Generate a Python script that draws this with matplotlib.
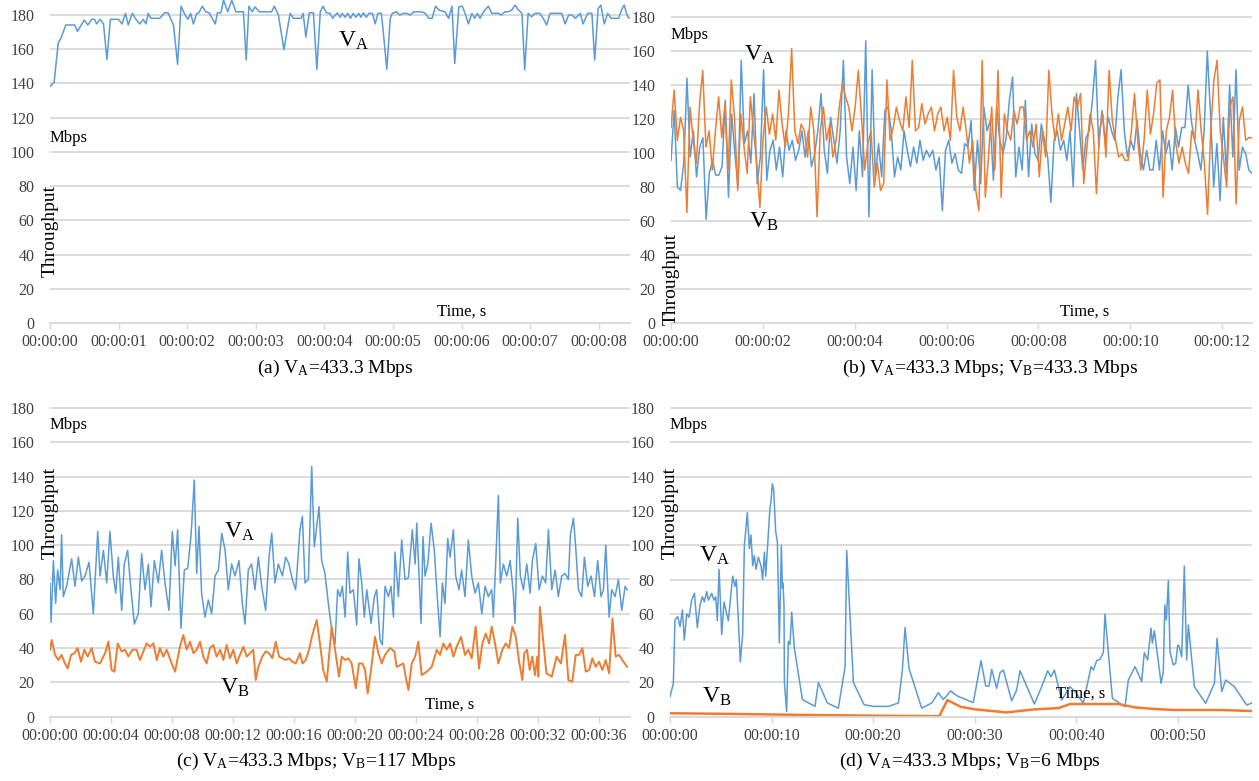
import numpy as np
import matplotlib
matplotlib.use("Agg")
import matplotlib.pyplot as plt

plt.rcParams['font.family'] = ['Liberation Serif', 'DejaVu Serif']
plt.rcParams['mathtext.fontset'] = 'custom'
plt.rcParams['mathtext.rm'] = 'Liberation Serif'
plt.rcParams['mathtext.it'] = 'Liberation Serif:italic'

BLUE = '#5B9BD5'
ORANGE = '#ED7D31'
GRID = '#D9D9D9'
TICK_TEXT = '#404040'

# ---- (a) VA only, 0..8.45 s ----
t_a = [0.0, 0.06, 0.12, 0.16, 0.23, 0.36, 0.40, 0.50, 0.55, 0.61,
       0.65, 0.68, 0.73, 0.78, 0.83, 0.88, 1.00, 1.05, 1.10, 1.14,
       1.20, 1.26, 1.31, 1.36, 1.40, 1.43, 1.47, 1.60, 1.67, 1.72,
       1.80, 1.86, 1.91, 1.97, 2.01, 2.05, 2.09, 2.14, 2.17, 2.22,
       2.27, 2.32, 2.41, 2.44, 2.49, 2.53, 2.59, 2.65, 2.71, 2.82,
       2.86, 2.90, 2.95, 2.99, 3.05, 3.23, 3.27, 3.33, 3.41, 3.50,
       3.55, 3.66, 3.69, 3.73, 3.78, 3.84, 3.89, 3.94, 3.98, 4.03,
       4.08, 4.12, 4.16,
       4.19, 4.23, 4.26, 4.30, 4.34, 4.38, 4.42, 4.46, 4.50, 4.53,
       4.57, 4.61, 4.65, 4.70, 4.74, 4.78, 4.83, 4.86, 4.91, 4.96,
       4.99, 5.05, 5.10, 5.15, 5.20, 5.25, 5.30, 5.42, 5.47, 5.52,
       5.57, 5.62, 5.67, 5.76, 5.81, 5.86, 5.90, 5.96, 6.01, 6.06,
       6.10, 6.15, 6.19, 6.23, 6.27, 6.32, 6.39, 6.44, 6.54, 6.58,
       6.63, 6.68, 6.73, 6.78, 6.83, 6.88, 6.92, 6.97, 7.02, 7.07,
       7.14, 7.19, 7.24, 7.29, 7.46, 7.51, 7.56, 7.61, 7.66, 7.73,
       7.77, 7.84, 7.90, 7.94, 7.99, 8.03, 8.08, 8.13, 8.18, 8.29,
       8.33, 8.37, 8.42, 8.46]
va_a = [138.3, 140.6, 163.7, 166.5, 174.2, 174.2, 170.4, 177.1, 174.2, 177.5,
        177.5, 174.8, 177.5, 174.8, 154.0, 177.5, 177.5, 174.8, 181.0, 174.2,
        181.0, 177.1, 174.8, 177.5, 174.8, 181.0, 178.1, 178.1, 181.3, 181.3,
        174.2, 151.2, 185.2, 180.0, 177.5, 181.0, 174.8, 181.0, 181.3, 185.2,
        181.9, 181.3, 174.8, 181.3, 181.3, 188.7, 181.9, 188.7, 181.9, 181.9,
        153.7, 185.2, 181.9, 184.8, 181.9, 181.9, 185.2, 180.0, 159.8, 181.0,
        178.1, 178.1, 181.0, 167.1, 181.3, 181.3, 148.3, 181.9, 185.2, 181.3,
        181.0, 178.1, 180.0,
        181.3, 178.7, 181.0, 178.7, 181.0, 178.1, 181.0, 178.7, 181.0, 178.7,
        181.3, 178.7, 181.0, 181.0, 174.8, 181.0, 181.0, 169.4, 148.3, 178.1,
        181.0, 181.9, 180.0, 181.0, 181.0, 180.0, 181.9, 181.9, 181.0, 178.1,
        178.1, 185.2, 182.9, 181.9, 178.1, 185.2, 151.7, 184.8, 185.2, 180.0,
        174.8, 181.0, 178.1, 181.0, 178.1, 181.9, 185.2, 181.0, 181.0, 180.0,
        181.9, 181.9, 182.9, 185.8, 182.9, 181.0, 147.9, 181.0, 179.0, 181.0,
        181.0, 178.1, 174.2, 181.0, 181.0, 174.8, 180.0, 180.0, 178.1, 181.0,
        174.8, 181.0, 181.0, 153.7, 183.8, 185.8, 174.8, 181.0, 178.1, 178.1,
        182.9, 185.8, 179.0, 178.1]

# ---- (b) VA and VB, 0..12.65 s, evenly sampled ----
va_b = [95.7, 125, 80, 78, 94, 144, 97.6, 113, 86, 103.5,
        109, 61, 88, 95.7, 87, 87, 92, 131, 74, 123,
        99.6, 80, 154.5, 105.5, 113, 94, 135, 82, 97.6, 149,
        84, 101.6, 107.5, 90, 103.5, 86, 113, 101.6, 107.5, 95.7,
        101.6, 113, 97.6, 113, 92, 99.6, 113, 135, 101.6, 88,
        121, 107.5, 94, 113, 154.5, 97.6, 82, 103.5, 78, 113,
        86, 166, 62.4, 149, 86, 105.5, 86, 125, 127, 113,
        86, 97.6, 90, 113, 101.6, 92, 103.5, 94, 107.5, 95.7,
        101.6, 97.6, 101.6, 90, 97.6, 66, 101.6, 107.5, 94, 99.6,
        90,
        88, 105.5, 103.5, 119, 78, 107.5, 82, 127, 113, 119,
        84, 127, 107.5, 99.6, 109, 131, 144.7, 86, 103.5, 90,
        131, 86, 117, 99.6, 95.7, 117, 107.5, 97.6, 71, 107.5,
        113, 101.6, 107.5, 95.7, 113, 80, 135, 113, 90, 109,
        113, 131, 154.5, 103.5, 125, 107.5, 121, 113, 107.5, 133,
        149, 113, 97.6, 107.5, 101.6, 119, 99.6, 90, 101.6, 90,
        90, 107.5, 90, 113, 99.6, 107.5, 90, 115, 103.5, 115,
        115, 140, 119, 107.5, 99.6, 90, 113, 160, 123, 80,
        105.5, 72, 121, 88, 140, 97.6, 149, 90, 103.5, 99.6,
        90, 88]
vb_b = [115, 137, 107.5, 121, 113, 65, 127, 107.5, 94, 129,
        148.6, 103.5, 113, 90, 113, 133, 109, 129, 90, 143,
        121, 78, 123, 103.5, 88, 133, 113, 94, 68, 109,
        127, 111, 123, 107.5, 137, 117, 103.5, 123, 161.4, 113,
        105.5, 117, 113, 97.6, 127, 113, 62.4, 113, 127, 107.5,
        117, 97.6, 107.5, 127, 141, 133, 127, 113, 127, 148.6,
        121, 90, 105.5, 113, 80, 94, 78, 82, 143, 107.5,
        115, 127, 119, 113, 133, 115, 154.5, 113, 115, 129,
        117, 123, 127, 113, 123, 127, 113, 121, 107.5, 148.6,
        121, 113,
        127, 113, 94, 107.5, 78, 66, 154.5, 74, 97.6, 127,
        90, 148.6, 74, 123, 113, 107.5, 125, 117, 127, 127,
        107.5, 113, 103.5, 117, 86, 113, 97.6, 148.6, 123, 107.5,
        123, 107.5, 117, 127, 113, 133, 127, 135, 82, 103.5,
        123, 113, 76, 113, 123, 97.6, 148.6, 119, 107.5, 97.6,
        99.6, 95.7, 95.7, 113, 135, 107.5, 90, 107.5, 137, 111,
        123, 141, 143, 74, 113, 121, 137, 105.5, 94, 103.5,
        94, 88, 113, 107.5, 137, 113, 94, 64, 113, 143,
        154.5, 113, 97.6, 80, 127, 133, 70, 119, 127, 107.5,
        109, 109]
T_END_B = 12.65

# ---- (c) VA and VB=117 Mbps, 0..38 s ----
t_c_a = [0.0, 0.07, 0.22, 0.37, 0.50, 0.66, 0.76, 0.87, 1.09, 1.42,
         1.64, 1.86, 2.08, 2.29, 2.56, 2.84, 3.13, 3.28, 3.50, 3.72,
         3.93, 4.15, 4.31, 4.48, 4.70, 4.87, 5.09, 5.31, 5.53, 5.79,
         6.01, 6.23, 6.45, 6.62, 6.84, 7.10, 7.32, 7.54, 7.80, 8.02,
         8.20, 8.37, 8.59, 8.81, 9.03, 9.25, 9.46, 9.62, 9.77, 9.94,
         10.16, 10.38, 10.60, 10.82, 11.04, 11.26, 11.48, 11.69, 11.91, 12.13,
         12.39, 12.61, 12.79, 13.00, 13.22, 13.44, 13.66, 13.88, 14.14, 14.36,
         14.54, 14.75, 14.97, 15.24, 15.45, 15.67, 15.89, 16.11, 16.39, 16.55,
         16.72, 16.94, 17.16, 17.33, 17.49, 17.64, 17.81, 18.03, 18.25, 18.47,
         18.69,
         18.86, 19.02, 19.17, 19.35, 19.52, 19.67, 19.89, 20.11, 20.26, 20.44,
         20.61, 20.77, 21.05, 21.27, 21.42, 21.64, 21.79, 21.97, 22.19, 22.36,
         22.52, 22.62, 22.84, 23.06, 23.28, 23.50, 23.76, 23.94, 24.05, 24.20,
         24.33, 24.46, 24.59, 24.77, 24.99, 25.20, 25.36, 25.58, 25.73, 25.90,
         26.08, 26.23, 26.45, 26.60, 26.82, 26.99, 27.21, 27.43, 27.65, 27.87,
         28.09, 28.31, 28.53, 28.74, 28.96, 29.07, 29.23, 29.40, 29.53, 29.73,
         29.95, 30.17, 30.38, 30.49, 30.67, 30.84, 31.04, 31.26, 31.48, 31.63,
         31.85, 32.07, 32.29, 32.50, 32.68, 32.90, 33.12, 33.33, 33.55, 33.77,
         33.99, 34.12, 34.32, 34.47, 34.65, 34.86, 35.04, 35.26, 35.48, 35.70,
         35.91, 36.13, 36.29, 36.44, 36.66, 36.83, 37.05, 37.27, 37.49, 37.71,
         37.84]
va_c = [77.7, 55, 91, 66, 85.5, 74, 106, 70, 76, 92,
        76, 93, 79, 82, 90, 60, 108, 82, 97, 78,
        108, 82, 72, 93, 62, 89, 97, 74, 54, 60,
        95, 74, 89, 64, 91, 78, 97, 78, 62, 108,
        88, 109, 51.5, 85.5, 86.5, 106, 138, 83.5, 111, 72,
        58, 68, 60, 82, 85.5, 107, 97, 74, 89, 82,
        91, 66, 54, 85.5, 89, 74, 93, 76, 62, 93,
        107, 78, 89, 82, 93, 89, 80, 74, 109, 116.7,
        78, 80, 146, 99, 111, 122.5, 91, 83.5, 66, 50.5,
        42.7,
        74, 70, 76, 58, 96, 72, 74, 53.4, 92, 78,
        58, 74, 54.4, 70, 74, 44.7, 41.8, 76, 70, 76,
        58, 96, 70, 103, 80, 81, 109, 89, 112.8, 82,
        54.4, 105, 82, 89, 112.8, 97, 74, 46.6, 78, 66,
        104, 93, 109, 82, 74, 85.5, 70, 103, 82, 72,
        78, 60, 76, 70, 74, 58, 91, 129, 78, 89,
        82, 91, 72, 54.4, 115.7, 82, 74, 89, 72, 91,
        101, 74, 82, 78, 109, 74, 85.5, 70, 82, 83.5,
        80, 106, 115.7, 99, 74, 70, 93, 76, 82, 70,
        91, 70, 74, 100, 58, 74, 70, 80, 62, 76,
        74]
t_c_b = [0.0, 0.11, 0.33, 0.55, 0.76, 0.98, 1.16, 1.38, 1.61, 1.81,
         2.03, 2.25, 2.47, 2.73, 2.95, 3.28, 3.61, 3.83, 4.04, 4.22,
         4.44, 4.70, 4.92, 5.14, 5.40, 5.68, 5.90, 6.12, 6.34, 6.56,
         6.78, 7.00, 7.21, 7.43, 7.65, 7.98, 8.20, 8.52, 8.74, 8.96,
         9.18, 9.40, 9.62, 9.84, 10.05, 10.27, 10.49, 10.71, 10.93, 11.15,
         11.37, 11.58, 11.80, 12.02, 12.24, 12.46, 12.68, 12.90, 13.11, 13.33,
         13.49, 13.66, 13.92, 14.14, 14.36, 14.58, 14.80, 15.02, 15.23, 15.45,
         15.67, 15.89, 16.11, 16.39, 16.55, 16.77, 16.98, 17.20, 17.49, 17.70,
         17.92, 18.15, 18.47, 18.69,
         18.95, 19.13, 19.35, 19.56, 19.78, 20.05, 20.26, 20.48, 20.66, 20.83,
         21.05, 21.31, 21.53, 21.75, 21.97, 22.30, 22.58, 22.73, 22.95, 23.17,
         23.32, 23.50, 23.72, 23.94, 24.15, 24.37, 24.70, 25.03, 25.36, 25.58,
         25.79, 26.01, 26.23, 26.45, 26.67, 26.95, 27.21, 27.43, 27.65, 27.91,
         28.13, 28.35, 28.57, 28.79, 28.96, 29.18, 29.40, 29.66, 29.88, 30.10,
         30.32, 30.54, 30.76, 30.97, 31.10, 31.28, 31.45, 31.62, 31.80, 31.95,
         32.02, 32.12, 32.55, 32.90, 33.22, 33.50, 33.77, 33.99, 34.25, 34.47,
         34.69, 34.91, 35.13, 35.35, 35.56, 35.78, 36.00, 36.22, 36.44, 36.66,
         36.88, 37.09, 37.31, 37.53, 37.84]
vb_c = [38.8, 44.7, 36, 33, 36, 31, 28, 36, 37, 40,
        32, 39, 35, 40, 32, 31, 37, 43.7, 27.2, 26.2,
        42.7, 38, 39, 35, 39, 39, 33, 38, 42.7, 40.8,
        42.7, 33, 40, 35, 39, 31, 26.2, 40.8, 47.6, 39,
        43.7, 37, 39, 43.7, 35, 31, 40, 41.8, 35, 39,
        33, 41.8, 34, 39, 31, 36, 40.8, 35, 37, 39,
        21.3, 29, 35, 38, 37, 34, 43.7, 35, 34, 33,
        34, 32, 31, 37, 31, 33, 39, 47.6, 56.3, 42.7,
        27, 20.5, 52.5, 39,
        23.3, 35, 33, 34, 31, 16.5, 31, 31, 27.2, 13.5,
        27.2, 46.6, 37, 31, 36, 40, 38, 29, 30, 31,
        23.3, 15.5, 31, 35, 43.7, 24.2, 26.2, 29, 39, 36,
        42.7, 39, 42.7, 35, 40.8, 46.6, 36, 39, 34, 52.5,
        28, 42.7, 48.5, 42.7, 52.5, 42.7, 31, 39, 42.7, 40,
        52.5, 46.6, 32, 21.3, 37, 39, 27.2, 35, 24.2, 35,
        23.3, 64, 25.2, 23.3, 35, 31, 47.6, 21.3, 20.3, 36,
        36, 40, 26.2, 27.2, 34, 29, 32, 27.2, 33, 25.2,
        57.3, 35, 36, 33, 29]

# ---- (d) VA and VB=6 Mbps, 0..57 s ----
t_d_a = [0.0, 0.33, 0.49, 0.76, 0.99, 1.22, 1.41, 1.64, 1.87, 2.13,
         2.40, 2.69, 2.95, 3.18, 3.38, 3.61, 3.78, 4.10, 4.33, 4.50,
         4.66, 4.83, 5.09, 5.32, 5.58, 5.74, 6.01, 6.17, 6.40, 6.53,
         6.92, 7.15, 7.32, 7.61, 7.81, 7.97, 8.14, 8.30, 8.47, 8.70,
         8.96, 9.12, 9.29, 9.42, 9.84, 9.94, 10.07, 10.21, 10.40, 10.57,
         10.76, 10.96, 11.06, 11.12, 11.22, 11.26, 11.48, 11.65, 11.81, 11.98,
         12.24, 13.03, 14.27, 14.60, 15.49, 16.57, 17.23, 17.39, 18.05, 19.10,
         20.02, 21.49, 22.48, 22.87, 23.13, 23.53, 24.77, 25.76, 26.41, 26.91,
         27.63, 28.30, 29.85, 30.61, 31.07, 31.40, 31.66, 32.15, 32.48, 32.81,
         33.63, 34.12, 34.45, 35.86, 36.58, 37.17, 37.50, 37.83, 38.55, 39.37,
         39.86, 40.68, 41.44, 41.67, 41.99, 42.32, 42.65, 42.81, 43.54, 44.78,
         45.11, 45.77, 46.42, 46.68, 47.01, 47.34, 47.47, 47.67, 48.33, 48.55,
         48.70, 48.85, 49.05, 49.21, 49.54, 49.77, 49.97, 50.10, 50.36, 50.62,
         50.85, 51.02, 51.61, 52.72, 53.58, 53.84, 54.30, 54.69, 55.54, 56.76,
         57.28]
va_d = [11.7, 19.5, 56.4, 58.4, 52.5, 62.3, 44.7, 60, 58, 68,
        72, 52, 65, 70, 67, 73, 68, 72, 68, 70,
        56, 86, 48, 67, 60, 56, 72, 82, 76, 80,
        32, 48, 100, 119, 98, 106, 88, 94, 86, 93,
        88, 80, 96, 82, 122, 125, 136, 132, 108, 102,
        43, 100, 75, 78, 65, 20, 3, 44, 42, 61,
        40, 10, 6, 20, 8, 5, 29, 97, 20, 7,
        6, 6, 8, 27, 52, 28, 5, 8, 14, 10,
        15, 12, 8.2, 32.7, 17.9, 17.9, 27.6, 16.5, 25.7, 27.2,
        9.3, 15.6, 26.8, 7.4, 17.5, 26.8, 23.3, 27.2, 9.7, 17.5,
        14.6, 7.8, 29.2, 27.2, 32.7, 33.5, 37.4, 59.9, 10.7, 5.8,
        21.4, 29.2, 20.4, 37.4, 33.1, 51.6, 42.8, 50.2, 19.5, 26.3,
        65.2, 56.4, 79.4, 37.9, 30.2, 31.1, 41.8, 41.2, 35.0, 87.9,
        33.1, 53.5, 17.5, 7.8, 19.5, 45.7, 14.6, 21.4, 17.5, 6.8,
        8.0]
t_d_b = [0, 5, 10, 15, 20, 26.5, 27.3, 28.6, 30.0, 33.1,
         35.9, 38.2, 39.4, 44.1, 45.8, 47.7, 49.7, 54.3, 57.28]
vb_d = [2.0, 1.7, 1.3, 0.9, 0.6, 0.3, 9.7, 5.8, 4.3, 2.5,
        4.3, 5.0, 7.4, 7.4, 5.4, 4.5, 3.9, 3.9, 3.3]

W, H = 1259, 781
fig = plt.figure(figsize=(W / 100, H / 100), dpi=100)


def add_panel(x0, x1, y_top, y_zero, ymax, xmax, xstep):
    ax = fig.add_axes([x0 / W, 1 - y_zero / H, (x1 - x0) / W, (y_zero - y_top) / H])
    ax.set_xlim(0, xmax)
    ax.set_ylim(0, ymax)
    ax.set_yticks(range(0, 181, 20))
    ticks = np.arange(0, xmax, xstep)
    ax.set_xticks(ticks)
    ax.set_xticklabels([f"00:00:{int(s):02d}" for s in ticks])
    ax.yaxis.grid(True, color=GRID, lw=1.3)
    ax.set_axisbelow(True)
    for side in ['top', 'right', 'left']:
        ax.spines[side].set_visible(False)
    ax.spines['bottom'].set_color(GRID)
    ax.spines['bottom'].set_linewidth(1.3)
    ax.tick_params(axis='y', length=0, pad=11, labelsize=11.5, labelcolor=TICK_TEXT)
    ax.tick_params(axis='x', length=4, width=1, color=GRID, pad=4,
                   labelsize=11.5, labelcolor=TICK_TEXT)
    ax.patch.set_alpha(0)
    return ax


def labels(ax, mbps_y, thr_y, time_x, time_y):
    ax.text(0, mbps_y, 'Mbps', fontsize=12, ha='left', va='center')
    ax.text(0, thr_y, 'Throughput', fontsize=14, rotation=90, ha='center', va='center')
    ax.text(time_x, time_y, 'Time, s', fontsize=12, ha='center', va='center')


# (a)
ax = add_panel(50, 630, 0, 323, 188.8, 8.455, 1)
ax.plot(t_a, va_a, color=BLUE, lw=1.1)
labels(ax, 108, 54, 6.0, 6.6)
ax.text(4.2, 165, r'$\mathrm{V_A}$', fontsize=17, ha='left', va='center')

# (b)
ax = add_panel(671, 1252, 0, 323, 190, T_END_B, 2)
ax.plot(np.linspace(0, T_END_B, len(va_b)), va_b, color=BLUE, lw=1.1)
ax.plot(np.linspace(0, T_END_B, len(vb_b)), vb_b, color=ORANGE, lw=1.1)
labels(ax, 169.5, 26, 9.0, 6.8)
ax.text(1.6, 158, r'$\mathrm{V_A}$', fontsize=17, ha='left', va='center')
ax.text(1.7, 59.5, r'$\mathrm{V_B}$', fontsize=17, ha='left', va='center')

# (c)
ax = add_panel(50, 630, 395, 716.6, 187.6, 38.03, 4)
ax.plot(t_c_a, va_c, color=BLUE, lw=1.1)
ax.plot(t_c_b, vb_c, color=ORANGE, lw=1.4)
labels(ax, 170, 119, 26.2, 6.8)
ax.text(11.4, 108, r'$\mathrm{V_A}$', fontsize=17, ha='left', va='center')
ax.text(11.15, 16.5, r'$\mathrm{V_B}$', fontsize=17, ha='left', va='center')

# (d)
ax = add_panel(670, 1252, 395, 716.7, 187.7, 57.28, 10)
ax.plot(t_d_a, va_d, color=BLUE, lw=1.1)
ax.plot(t_d_b, vb_d, color=ORANGE, lw=1.8)
labels(ax, 170, 119, 40.4, 13.6)
ax.text(2.85, 94, r'$\mathrm{V_A}$', fontsize=17, ha='left', va='center')
ax.text(3.15, 11.5, r'$\mathrm{V_B}$', fontsize=17, ha='left', va='center')

# captions
fig.text(335 / W, 1 - 368 / H, r'(a) $\mathrm{V_A}$=433.3 Mbps', fontsize=14, ha='center', va='center')
fig.text(990 / W, 1 - 368 / H, r'(b) $\mathrm{V_A}$=433.3 Mbps; $\mathrm{V_B}$=433.3 Mbps',
         fontsize=14, ha='center', va='center')
fig.text(316 / W, 1 - 761 / H, r'(c) $\mathrm{V_A}$=433.3 Mbps; $\mathrm{V_B}$=117 Mbps',
         fontsize=14, ha='center', va='center')
fig.text(970 / W, 1 - 761 / H, r'(d) $\mathrm{V_A}$=433.3 Mbps; $\mathrm{V_B}$=6 Mbps',
         fontsize=14, ha='center', va='center')

fig.savefig('out.png', dpi=100)
